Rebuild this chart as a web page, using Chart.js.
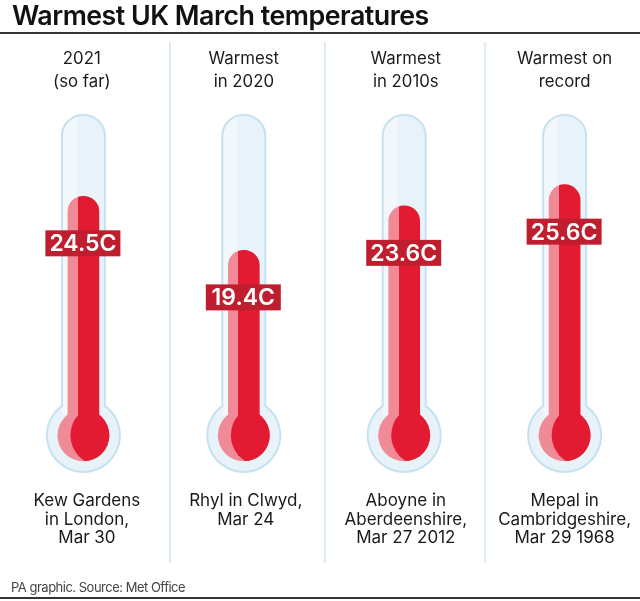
<!DOCTYPE html>
<html>
<head>
<meta charset="utf-8">
<style>
  html, body { margin: 0; padding: 0; background: #fff; overflow: hidden; }
  #wrap { position: relative; width: 640px; height: 601px; font-family: Inter, sans-serif; }
  h1 { position: absolute; left: 12px; top: 0; margin: 0; font-size: 26.8px; line-height: 30px; font-weight: 600; color: #111; letter-spacing: -0.5px; white-space: nowrap; }
  .rule { position: absolute; left: 0; width: 640px; height: 2px; background: #333; }
  #source { position: absolute; left: 11px; top: 578px; font-size: 13px; line-height: 18px; color: #444; letter-spacing: -0.5px; }
  #chartBox { position: absolute; left: 0; top: 0; width: 640px; height: 601px; }
</style>
<script src="https://cdn.jsdelivr.net/npm/chart.js@4"></script>
</head>
<body>
<div id="wrap">
  <div id="chartBox"><canvas id="myChart"></canvas></div>
  <h1>Warmest UK March temperatures</h1>
  <div class="rule" style="top:32px"></div>
  <div id="source">PA graphic. Source: Met Office</div>
  <div class="rule" style="top:597px"></div>
</div>
<script>
const headers = [["2021", "(so far)"], ["Warmest", "in 2020"], ["Warmest", "in 2010s"], ["Warmest on", "record"]];
const places = [
  ["Kew Gardens", "in London,", "Mar 30"],
  ["Rhyl in Clwyd,", "Mar 24"],
  ["Aboyne in", "Aberdeenshire,", "Mar 27 2012"],
  ["Mepal in", "Cambridgeshire,", "Mar 29 1968"]
];
const temps = [24.5, 19.4, 23.6, 25.6];

// labels are not quite centred on the thermometers in the original
const headerTicks = [-0.01, 0, 0.01, 0];
const placeTicks = [0.022, 0.012, 0.01, 0];

const RED = "#e31b32", PINK = "#f08a96", BOX = "#bf1e2e";
const GLASS = "#e8f2f9", SHINE = "#f2f7fb", EDGE = "#c6e1f1";
const TUBE_R = 21.5, BULB_R = 36.5, INNER_R = 26;

const barColour = (c) => {
  const x = c.chart.scales.x.getPixelForValue(c.dataIndex);
  if (!Number.isFinite(x)) return RED;
  const g = c.chart.ctx.createLinearGradient(x - 15.5, 0, x + 15.5, 0);
  g.addColorStop(0, PINK);
  g.addColorStop(0.32, PINK);
  g.addColorStop(0.32, RED);
  g.addColorStop(1, RED);
  return g;
};

const glassPath = (ctx, x, top, cy) => {
  const a = Math.asin(TUBE_R / BULB_R);
  ctx.beginPath();
  ctx.arc(x, top + TUBE_R, TUBE_R, Math.PI, 0);
  ctx.arc(x, cy, BULB_R, -Math.PI / 2 + a, Math.PI * 1.5 - a);
  ctx.closePath();
};

const thermometer = {
  id: "thermometer",
  beforeDatasetsDraw(chart) {
    const { ctx, scales } = chart;
    ctx.save();
    // column separators
    ctx.strokeStyle = "#dcebf5";
    ctx.lineWidth = 2;
    [0.54, 1.505, 2.505].forEach((v) => {
      const px = scales.x.getPixelForValue(v);
      ctx.beginPath();
      ctx.moveTo(px, 42);
      ctx.lineTo(px, 563);
      ctx.stroke();
    });
    temps.forEach((t, i) => {
      const x = scales.x.getPixelForValue(i);
      const top = scales.y.getPixelForValue(32.2);
      const cy = scales.y.getPixelForValue(1.95);
      glassPath(ctx, x, top, cy);
      ctx.fillStyle = GLASS;
      ctx.fill();
      ctx.save();
      ctx.clip();
      ctx.fillStyle = SHINE;
      ctx.fillRect(x - TUBE_R, top, 15, cy - top - 20);
      ctx.restore();
      glassPath(ctx, x, top, cy);
      ctx.strokeStyle = EDGE;
      ctx.lineWidth = 2;
      ctx.stroke();
      // pink bulb goes under the bar so the stem runs into it
      ctx.beginPath();
      ctx.arc(x, cy, INNER_R, 0, Math.PI * 2);
      ctx.fillStyle = PINK;
      ctx.fill();
    });
    ctx.restore();
  },
  afterDatasetsDraw(chart) {
    const { ctx, scales } = chart;
    const bars = chart.getDatasetMeta(0).data;
    ctx.save();
    temps.forEach((t, i) => {
      const x = scales.x.getPixelForValue(i);
      const cy = scales.y.getPixelForValue(1.95);
      // red part of the bulb
      ctx.save();
      ctx.beginPath();
      ctx.arc(x, cy, INNER_R, 0, Math.PI * 2);
      ctx.clip();
      ctx.beginPath();
      ctx.arc(x + 17, cy, 30, 0, Math.PI * 2);
      ctx.fillStyle = RED;
      ctx.fill();
      ctx.restore();
      // value tag
      const y = bars[i].y + 47;
      const label = t.toFixed(1) + "C";
      ctx.fillStyle = BOX;
      ctx.fillRect(x - 38, y - 13, 75, 26);
      ctx.fillStyle = "#fff";
      ctx.font = "600 23px Inter, sans-serif";
      ctx.textAlign = "center";
      ctx.textBaseline = "middle";
      ctx.fillText(label, x - 0.5, y + 1);
    });
    ctx.restore();
  }
};

const noSidePadding = (s, h) => {
  s.height = h;
  s.paddingLeft = 0;
  s.paddingRight = 0;
};

const myChart = new Chart(document.getElementById("myChart"), {
  type: "bar",
  data: {
    datasets: [{
      data: temps.map((t, i) => ({ x: i, y: t })),
      backgroundColor: barColour,
      barThickness: 31,
      borderSkipped: false,
      borderRadius: { topLeft: 15.5, topRight: 15.5, bottomLeft: 0, bottomRight: 0 }
    }]
  },
  plugins: [thermometer],
  options: {
    responsive: true,
    maintainAspectRatio: false,
    animation: false,
    layout: { padding: 0 },
    plugins: { legend: { display: false }, tooltip: { enabled: false }, title: { display: false } },
    scales: {
      x: {
        type: "linear",
        position: "bottom",
        offset: false,
        min: -0.52,
        max: 3.47,
        grid: { display: false },
        border: { display: false },
        afterBuildTicks: (s) => { s.ticks = placeTicks.map((d, i) => ({ value: i + d })); },
        afterFit: (s) => noSidePadding(s, 145),
        ticks: {
          autoSkip: false,
          maxRotation: 0,
          padding: 28,
          color: "#1a1a1a",
          font: { family: "Inter, sans-serif", size: 17, lineHeight: 1.09 },
          callback: (v, i) => places[i]
        }
      },
      top: {
        type: "linear",
        position: "top",
        offset: false,
        min: -0.52,
        max: 3.47,
        grid: { display: false, drawTicks: false },
        border: { display: false },
        afterBuildTicks: (s) => { s.ticks = headerTicks.map((d, i) => ({ value: i + d })); },
        afterFit: (s) => noSidePadding(s, 95),
        ticks: {
          autoSkip: false,
          maxRotation: 0,
          padding: 2,
          color: "#1a1a1a",
          font: { family: "Inter, sans-serif", size: 16.8, lineHeight: 1.37 },
          callback: (v, i) => headers[i]
        }
      },
      y: { display: false, min: 0, max: 34.06 }
    }
  }
});
</script>
</body>
</html>
